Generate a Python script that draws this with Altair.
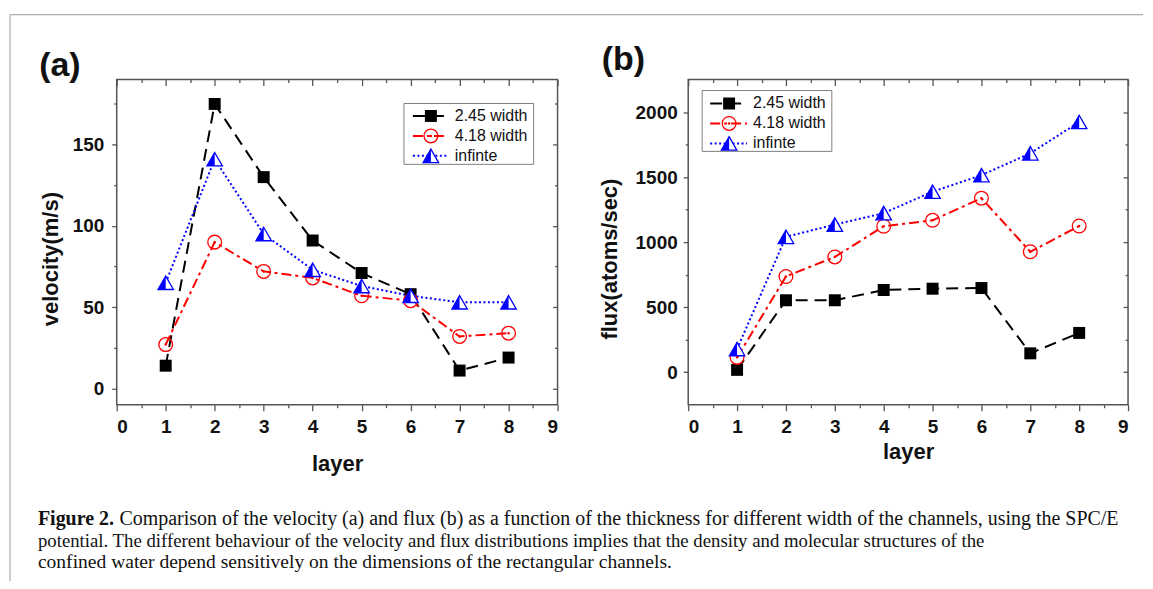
import altair as alt
import pandas as pd

# ---------------- data ----------------
layer_idx = [1, 2, 3, 4, 5, 6, 7, 8]
series_names = ["2.45 width", "4.18 width", "infinte"]

velocity_245 = [14, 175, 130, 91, 71, 58, 11, 19]
velocity_418 = [27, 90, 72, 68, 57, 54, 32, 34]
velocity_inf = [65, 141, 95, 73, 63, 57, 53, 53]

flux_245 = [18, 553, 553, 632, 642, 647, 145, 302]
flux_418 = [114, 736, 886, 1122, 1168, 1338, 926, 1124]
flux_inf = [178, 1041, 1135, 1223, 1388, 1515, 1683, 1924]

x_major = [0, 1, 2, 3, 4, 5, 6, 7, 8, 9]
x_minor = [0.5, 1.5, 2.5, 3.5, 4.5, 5.5, 6.5, 7.5, 8.5]
vel_major = [0, 50, 100, 150]
vel_minor = [25, 75, 125, 175]
flux_major = [0, 500, 1000, 1500, 2000]
flux_minor = [250, 750, 1250, 1750]

caption_bold = "Figure 2."
caption_line1 = ("Comparison of the velocity (a) and flux (b) as a function of the thickness "
                 "for different width of the channels, using the SPC/E")
caption_line2 = ("potential. The different behaviour of the velocity and flux distributions "
                 "implies that the density and molecular structures of the")
caption_line3 = "confined water depend sensitively on the dimensions of the rectangular channels."

# ---------------- style ----------------
BLACK, RED, BLUE = "#000000", "#ff0000", "#0000ff"
colors = [BLACK, RED, BLUE]
dashes = [[12, 7], [10, 4, 3, 4], [2, 2.5]]
SANS = "Liberation Sans"
SERIF = "Liberation Serif"
FRAME = "#555555"
TRI = "M0,-0.87L1,0.87L-1,0.87Z"
TRI_HALF = "M0,-0.87L0,0.87L-1,0.87Z"
SQ_SIZE, CIR_SIZE, TRI_SIZE = 144, 190, 240

one = pd.DataFrame({"k": [0]})


def long_df(vals):
    rows = []
    for s, v in zip(series_names, vals):
        for l, y in zip(layer_idx, v):
            rows.append({"layer": l, "value": y, "series": s})
    return pd.DataFrame(rows)


def markers(chart_fn, idx, x, y):
    out = []
    if idx == 0:
        out.append(chart_fn().mark_point(shape="square", filled=True, color=BLACK, opacity=1,
                                         size=SQ_SIZE).encode(x=x[0], y=y[0]))
    elif idx == 1:
        out.append(chart_fn().mark_point(shape="circle", filled=False, color=RED, opacity=1,
                                         strokeWidth=1.3, size=CIR_SIZE).encode(x=x[0], y=y[0]))
        out.append(chart_fn().mark_point(shape="circle", filled=True, color=RED, opacity=1,
                                         size=6).encode(x=x[1], y=y[1]))
    else:
        out.append(chart_fn().mark_point(shape=TRI, filled=True, fill="white", stroke=BLUE, opacity=1,
                                         strokeWidth=1.3, size=TRI_SIZE).encode(x=x[0], y=y[0]))
        out.append(chart_fn().mark_point(shape=TRI_HALF, filled=True, color=BLUE, opacity=1,
                                         size=TRI_SIZE).encode(x=x[1], y=y[1]))
    return out


def make_panel(vals, width, ydom, y_major, y_minor, y_title, y_title_x, x_title_y,
               y_label_pad, legend, label, label_pos, extra=None):
    df = long_df(vals)
    xs = alt.Scale(domain=[0, 9], nice=False, zero=False)
    ys = alt.Scale(domain=ydom, nice=False, zero=False)

    ax_bottom = alt.Axis(orient="bottom", values=x_major, tickSize=6, labelPadding=7,
                         title="layer", titleY=x_title_y, titleBaseline="middle",
                         domain=False, grid=False, format="d")
    ax_bottom_minor = alt.Axis(orient="bottom", values=x_minor, tickSize=3, labels=False,
                               title=None, domain=False, grid=False)
    ax_top = alt.Axis(orient="top", values=x_major, tickSize=6, offset=-6, labels=False,
                      title=None, domain=False, grid=False)
    ax_top_minor = alt.Axis(orient="top", values=x_minor, tickSize=3, offset=-3, labels=False,
                            title=None, domain=False, grid=False)
    ax_left = alt.Axis(orient="left", values=y_major, tickSize=5, labelPadding=y_label_pad,
                       title=None, domain=False, grid=False, format="d")
    ax_left_minor = alt.Axis(orient="left", values=y_minor, tickSize=3, labels=False,
                             title=None, domain=False, grid=False)
    ax_right = alt.Axis(orient="right", values=y_major, tickSize=5, offset=-5, labels=False,
                        title=None, domain=False, grid=False)
    ax_right_minor = alt.Axis(orient="right", values=y_minor, tickSize=3, offset=-3, labels=False,
                              title=None, domain=False, grid=False)

    def X(axis):
        return alt.X("layer:Q", scale=xs, axis=axis)

    def Y(axis):
        return alt.Y("value:Q", scale=ys, axis=axis)

    base = alt.Chart(df)
    lines = base.mark_line(strokeWidth=2).encode(
        x=X(ax_bottom), y=Y(ax_left),
        color=alt.Color("series:N", scale=alt.Scale(domain=series_names, range=colors), legend=None),
        strokeDash=alt.StrokeDash("series:N", scale=alt.Scale(domain=series_names, range=dashes),
                                  legend=None),
    )

    def fbase(i):
        return lambda: base.transform_filter(alt.datum.series == series_names[i])

    layers = [lines]
    layers += markers(fbase(0), 0, [X(ax_bottom_minor)], [Y(ax_left_minor)])
    layers += markers(fbase(1), 1, [X(ax_top), X(None)], [Y(ax_right), Y(None)])
    layers += markers(fbase(2), 2, [X(ax_top_minor), X(None)], [Y(ax_right_minor), Y(None)])

    ob = lambda: alt.Chart(one)

    # y axis title
    layers.append(ob().mark_text(align="center", baseline="middle", angle=270, font=SANS,
                                 fontSize=22, fontWeight="bold", color="#111111").encode(
        x=alt.value(y_title_x), y=alt.value(180), text=alt.value(y_title)))

    # legend (drawn manually, Origin style)
    bx0, by0, bx1, by1, rows_y, lx0, lx1, lxm, tx = legend
    layers.append(ob().mark_rect(fill="white", stroke="#808080", strokeWidth=1).encode(
        x=alt.value(bx0), x2=alt.value(bx1), y=alt.value(by0), y2=alt.value(by1)))
    for i, s in enumerate(series_names):
        ly = rows_y[i]
        layers.append(ob().mark_rule(color=colors[i], strokeDash=dashes[i], strokeWidth=2).encode(
            x=alt.value(lx0), x2=alt.value(lx1), y=alt.value(ly)))
        layers += markers(ob, i, [alt.value(lxm), alt.value(lxm)], [alt.value(ly), alt.value(ly)])
        layers.append(ob().mark_text(align="left", baseline="middle", font=SANS, fontSize=16,
                                     color="#111111").encode(
            x=alt.value(tx), y=alt.value(ly), text=alt.value(s)))

    # panel label
    layers.append(ob().mark_text(align="center", baseline="middle", font=SANS, fontSize=34,
                                 fontWeight="bold", color="#111111").encode(
        x=alt.value(label_pos[0]), y=alt.value(label_pos[1]), text=alt.value(label)))

    if extra:
        layers += extra

    return alt.layer(*layers).resolve_axis(x="independent", y="independent").properties(
        width=width, height=326)


# ---------- figure frame and caption (placed relative to panel (a)) ----------
ob = lambda: alt.Chart(one)
cap_fs = [20, 18.8, 19.6]
cap_x = -79
cap_y = [447, 468.5, 490]


def cap_text(x, y, fs, txt, bold=False):
    mk = dict(align="left", baseline="alphabetic", font=SERIF, fontSize=fs, color="#111111")
    if bold:
        mk["fontWeight"] = "bold"
    return ob().mark_text(**mk).encode(x=alt.value(x), y=alt.value(y), text=alt.value(txt))


extra_a = [
    ob().mark_rule(color="#9a9a9a", strokeWidth=1).encode(
        x=alt.value(-107), x2=alt.value(1029), y=alt.value(-65)),
    ob().mark_rule(color="#9a9a9a", strokeWidth=1).encode(
        x=alt.value(-107), y=alt.value(-65), y2=alt.value(503)),
    cap_text(cap_x, cap_y[0], cap_fs[0], caption_bold, bold=True),
    cap_text(cap_x + 4.09 * cap_fs[0], cap_y[0], cap_fs[0], caption_line1),
    cap_text(cap_x, cap_y[1], cap_fs[1], caption_line2),
    cap_text(cap_x, cap_y[2], cap_fs[2], caption_line3),
]

panel_a = make_panel(
    [velocity_245, velocity_418, velocity_inf], 442, [-10, 190], vel_major, vel_minor,
    "velocity(m/s)", -66, 59, 8,
    (288, 24, 418, 85, [36.5, 56.5, 76.5], 297, 332, 315, 339),
    "(a)", (-57, -14), extra_a)

panel_b = make_panel(
    [flux_245, flux_418, flux_inf], 441, [-250, 2250], flux_major, flux_minor,
    "flux(atoms/sec)", -78, 47, 6,
    (14, 11, 144, 72, [24, 44, 64], 22, 59, 41, 65),
    "(b)", (-65, -20))

chart = alt.hconcat(panel_a, panel_b, spacing=131, bounds="flush").properties(
    padding={"left": 0, "top": 4, "right": 0, "bottom": 0}
).configure_view(
    stroke=FRAME, strokeWidth=1.5
).configure_axis(
    labelFont=SANS, labelFontSize=19, labelFontWeight="bold", labelColor="#111111",
    titleFont=SANS, titleFontSize=22, titleFontWeight="bold", titleColor="#111111",
    tickColor=FRAME, tickWidth=1.3
)

chart.save("out.html", embed_options={"renderer": "svg", "actions": False})
